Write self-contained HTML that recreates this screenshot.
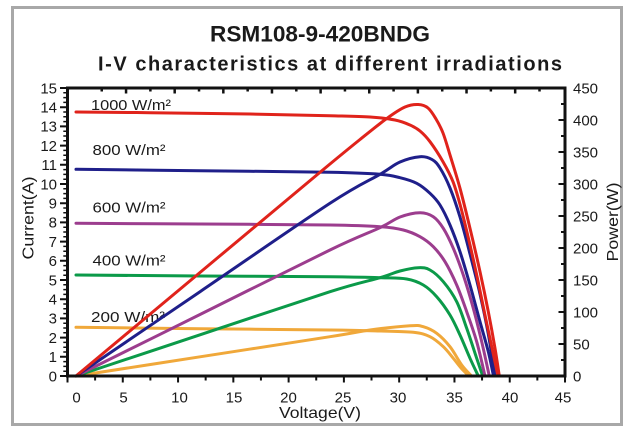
<!DOCTYPE html>
<html>
<head>
<meta charset="utf-8">
<style>
html,body{margin:0;padding:0;background:#fff;}
svg{display:block;}
text{font-family:"Liberation Sans",Arial,sans-serif;fill:#1a1a1a;}
</style>
</head>
<body>
<svg width="640" height="440" viewBox="0 0 640 440" xmlns="http://www.w3.org/2000/svg">
<rect x="0" y="0" width="640" height="440" fill="#fff"/>
<rect x="12.5" y="7.5" width="609" height="417" fill="none" stroke="#a8a8a8" stroke-width="3"/>

<!-- Title -->
<text x="320" y="41.7" font-size="22" font-weight="bold" text-anchor="middle" textLength="220" lengthAdjust="spacingAndGlyphs">RSM108-9-420BNDG</text>
<text x="330" y="70.5" font-size="20" font-weight="bold" text-anchor="middle" textLength="464" lengthAdjust="spacing">I-V characteristics at different irradiations</text>

<!-- Irradiance labels -->
<g font-size="15">
<text x="91" y="110" textLength="80" lengthAdjust="spacingAndGlyphs">1000 W/m²</text>
<text x="92.5" y="155" textLength="73" lengthAdjust="spacingAndGlyphs">800 W/m²</text>
<text x="92.5" y="212.5" textLength="73" lengthAdjust="spacingAndGlyphs">600 W/m²</text>
<text x="92.5" y="265.5" textLength="73" lengthAdjust="spacingAndGlyphs">400 W/m²</text>
<text x="91" y="322" textLength="74" lengthAdjust="spacingAndGlyphs">200 W/m²</text>
</g>

<!-- Curves -->
<g fill="none" stroke-width="3" stroke-linecap="round" stroke-linejoin="round">
<!-- orange -->
<path class="sm" stroke="#f0a83a" d="M76,327.3 L200,328.7 L330,330 L380,331 L413.3,332.3 L430,336.7 L443.3,346.7 L453.3,358.3 L461.5,368.5 L469,376"/>
<path class="sm" stroke="#f0a83a" d="M76,376 L200,356.8 L330,336.7 L370,330 L410,325.7 L423.3,326.7 L436.7,333.3 L450,346.7 L461.7,365 L471.5,376"/>
<!-- green -->
<path class="sm" stroke="#0b9a49" d="M76,275 L200,276 L330,276.7 L380,277.7 L406.7,279 L423.3,285 L436.7,296.7 L450,315 L460,335 L470,358.3 L478.3,376"/>
<path class="sm" stroke="#0b9a49" d="M76,376 L200,334.8 L330,291.7 L380,277.7 L400,271 L418.3,267.7 L430,270 L443.3,281.7 L456.7,301.7 L466.7,328.3 L476.7,358.3 L482.7,376"/>
<!-- purple -->
<path class="sm" stroke="#9c3d8e" d="M76,223.3 L200,224 L330,225 L380,226.7 L403.3,230 L420,236.7 L433.3,246.7 L445,261.7 L456.7,285 L466.7,311.7 L476.7,341.7 L485,376"/>
<path class="sm" stroke="#9c3d8e" d="M76,376 L200,314.5 L330,250 L380,227.7 L400,217 L420,212.7 L433.3,216.7 L443.3,228.3 L453.3,248.3 L463.3,275 L473.3,308.3 L481.7,341.7 L489.3,376"/>
<!-- blue -->
<path class="sm" stroke="#1f1f8a" d="M76,169.3 L200,170.7 L330,172.3 L380,174.3 L400,177.7 L416.7,183.3 L430,193.3 L440,205 L450,225 L460,251.7 L470,285 L480,321.7 L488.3,351.7 L493.5,376"/>
<path class="sm" stroke="#1f1f8a" d="M76,376 L200,291.7 L330,203.3 L380,174.3 L400,162 L420,156.7 L432,159.5 L440,168 L450,188 L460,217 L470,254 L480,294 L488.3,334 L495,376"/>
<!-- red -->
<path class="sm" stroke="#e0231b" d="M76,112 L150,112.7 L250,114 L330,115.7 L370,117 L395,120 L410,125 L420,131 L430,141.7 L443,161.7 L453,181.7 L461,208 L470,245 L478,281 L485,315 L492,348 L498,376"/>
<path class="sm" stroke="#e0231b" d="M76,376 L200,272.5 L300,189 L330,164 L360,139.5 L387,118.3 L405,107 L418.3,104.5 L428,108 L436,119 L443,133 L450,155 L460,188.3 L470,228.3 L480,271.7 L488.3,311.7 L495,348.3 L499.3,376"/>
</g>

<!-- Axes box -->
<rect x="67.5" y="88" width="497.5" height="288" fill="none" stroke="#111" stroke-width="3"/>

<!-- Left ticks -->
<line x1="63.5" y1="377" x2="63.5" y2="87" stroke="#111" stroke-width="7" stroke-dasharray="2 17.2"/>
<line x1="64.8" y1="376.75" x2="64.8" y2="88" stroke="#111" stroke-width="3" stroke-dasharray="1.5 3.3"/>
<!-- Right ticks -->
<line x1="561.5" y1="377" x2="561.5" y2="87" stroke="#111" stroke-width="6" stroke-dasharray="2 30"/>
<line x1="563" y1="377" x2="563" y2="87" stroke="#111" stroke-width="4" stroke-dasharray="2 14"/>
<!-- Bottom ticks -->
<line x1="66.5" y1="379.5" x2="567" y2="379.5" stroke="#111" stroke-width="6" stroke-dasharray="2 53.28"/>
<line x1="94.1" y1="378.5" x2="567" y2="378.5" stroke="#111" stroke-width="4" stroke-dasharray="2 53.28"/>
<!-- Top ticks -->
<line x1="100.5" y1="89.75" x2="560" y2="89.75" stroke="#111" stroke-width="3.5" stroke-dasharray="2.5 46.14"/>
<line x1="124.8" y1="90.75" x2="560" y2="90.75" stroke="#111" stroke-width="5.5" stroke-dasharray="2.5 46.14"/>

<!-- Left tick labels -->
<g font-size="15" text-anchor="end">
<text x="57" y="381.3">0</text>
<text x="57" y="362.1">1</text>
<text x="57" y="342.9">2</text>
<text x="57" y="323.7">3</text>
<text x="57" y="304.5">4</text>
<text x="57" y="285.3">5</text>
<text x="57" y="266.1">6</text>
<text x="57" y="246.9">7</text>
<text x="57" y="227.7">8</text>
<text x="57" y="208.5">9</text>
<text x="57" y="189.3">10</text>
<text x="57" y="170.1">11</text>
<text x="57" y="150.9">12</text>
<text x="57" y="131.7">13</text>
<text x="57" y="112.5">14</text>
<text x="57" y="93.3">15</text>
</g>

<!-- Right tick labels -->
<g font-size="15">
<text x="573" y="381.3">0</text>
<text x="573" y="349.3">50</text>
<text x="573" y="317.3">100</text>
<text x="573" y="285.3">150</text>
<text x="573" y="253.3">200</text>
<text x="573" y="221.3">250</text>
<text x="573" y="189.3">300</text>
<text x="573" y="157.3">350</text>
<text x="573" y="125.3">400</text>
<text x="573" y="93.3">450</text>
</g>

<!-- Bottom tick labels -->
<g font-size="15" text-anchor="middle">
<text x="76.5" y="402.5">0</text>
<text x="123.5" y="402.5">5</text>
<text x="179.5" y="402.5">10</text>
<text x="234" y="402.5">15</text>
<text x="288.5" y="402.5">20</text>
<text x="343" y="402.5">25</text>
<text x="398" y="402.5">30</text>
<text x="454.5" y="402.5">35</text>
<text x="510" y="402.5">40</text>
<text x="563" y="402.5">45</text>
</g>

<!-- Axis titles -->
<text x="320" y="418" font-size="16" text-anchor="middle" textLength="82" lengthAdjust="spacingAndGlyphs">Voltage(V)</text>
<text transform="translate(28,218) rotate(-90)" x="0" y="5.5" font-size="16" text-anchor="middle" textLength="83" lengthAdjust="spacingAndGlyphs">Current(A)</text>
<text transform="translate(612.5,222) rotate(-90)" x="0" y="5.5" font-size="16" text-anchor="middle" textLength="79" lengthAdjust="spacingAndGlyphs">Power(W)</text>
</svg>
<script>
(function(){
  var paths=document.querySelectorAll('path.sm');
  for(var k=0;k<paths.length;k++){
    var p=paths[k];
    var nums=p.getAttribute('d').match(/-?\d+(\.\d+)?/g).map(Number);
    var pts=[];
    for(var i=0;i<nums.length;i+=2)pts.push([nums[i],nums[i+1]]);
    var d='M'+pts[0][0]+','+pts[0][1];
    for(var i=0;i<pts.length-1;i++){
      var p0=pts[i-1]||pts[i],p1=pts[i],p2=pts[i+1],p3=pts[i+2]||pts[i+1];
      var c1x=p1[0]+(p2[0]-p0[0])/6,c1y=p1[1]+(p2[1]-p0[1])/6;
      var c2x=p2[0]-(p3[0]-p1[0])/6,c2y=p2[1]-(p3[1]-p1[1])/6;
      d+=' C'+c1x.toFixed(2)+','+c1y.toFixed(2)+' '+c2x.toFixed(2)+','+c2y.toFixed(2)+' '+p2[0]+','+p2[1];
    }
    p.setAttribute('d',d);
  }
})();
</script>
</body>
</html>
